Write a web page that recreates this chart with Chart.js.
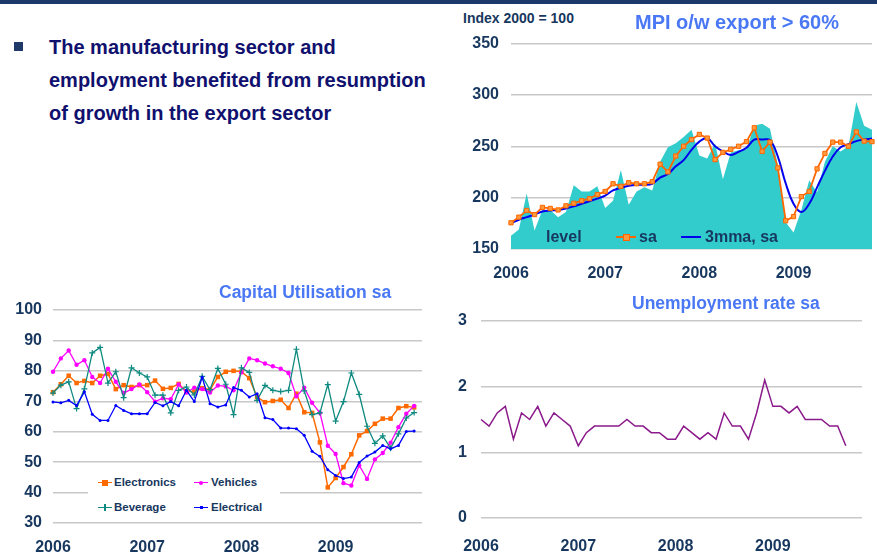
<!DOCTYPE html>
<html>
<head>
<meta charset="utf-8">
<script src="https://cdn.jsdelivr.net/npm/chart.js@4.4.1/dist/chart.umd.min.js"></script>
<style>
  html, body { margin: 0; padding: 0; background: #fff; }
  body { width: 877px; height: 555px; position: relative; overflow: hidden;
         font-family: "Liberation Sans", Arial, sans-serif; }
  .topbar { position: absolute; left: 0; top: 0; width: 877px; height: 4px; background: #1b3a6b; }
  .bullet { position: absolute; left: 14px; top: 42px; width: 9px; height: 9px; background: #1f3a68; }
  .headline { position: absolute; left: 49px; top: 31px; font-size: 20px; font-weight: bold;
              color: #10106e; line-height: 33px; white-space: nowrap; }
  .cv { position: absolute; }
  .ttl { position: absolute; font-weight: bold; color: #4a78f5; white-space: nowrap; line-height: 1; }
  .lg { position: absolute; font-weight: bold; color: #17375e; white-space: nowrap; line-height: 1; }
  .ln { position: absolute; height: 0; }
  .mk { position: absolute; }
  .lgbox { position: absolute; left: 88px; top: 469px; width: 192px; height: 47px; background: #fff; }
</style>
</head>
<body>
<div class="topbar"></div>
<div class="bullet"></div>
<div class="headline">The manufacturing sector and<br>employment benefited from resumption<br>of growth in the export sector</div>

<canvas id="mpi" class="cv" style="left:455px;top:28px" width="422" height="260"></canvas>
<canvas id="cu" class="cv" style="left:0px;top:298px" width="430" height="257"></canvas>
<canvas id="un" class="cv" style="left:440px;top:305px" width="437" height="250"></canvas>

<div class="lg" style="left:463px;top:11px;font-size:14px">Index 2000 = 100</div>
<div class="ttl" style="left:635px;top:12px;font-size:20px">MPI o/w export &gt; 60%</div>
<div class="ttl" style="left:219px;top:284px;font-size:17.5px">Capital Utilisation sa</div>
<div class="ttl" style="left:632px;top:295px;font-size:17.5px">Unemployment rate sa</div>

<!-- MPI legend -->
<div class="lg" style="left:546px;top:229px;font-size:16px">level</div>
<div class="ln" style="left:616px;top:236px;width:20px;border-top:2px solid #ff6600"></div>
<div class="mk" style="left:623px;top:234px;width:5px;height:5px;background:#ff9a3c;border:1px solid #ff6600"></div>
<div class="lg" style="left:639px;top:229px;font-size:16px">sa</div>
<div class="ln" style="left:681px;top:236px;width:20px;border-top:2px solid #0000ee"></div>
<div class="lg" style="left:705px;top:229px;font-size:16px">3mma, sa</div>

<!-- Capital utilisation legend -->
<div class="lgbox"></div>
<div class="ln" style="left:98px;top:482px;width:14px;border-top:1.5px solid #ff6a00"></div>
<div class="mk" style="left:102px;top:480px;width:6px;height:6px;background:#ff6a00"></div>
<div class="lg" style="left:114px;top:477px;font-size:11.5px">Electronics</div>
<div class="ln" style="left:194px;top:482px;width:14px;border-top:1.5px solid #ff00ff"></div>
<div class="mk" style="left:199px;top:481px;width:4px;height:4px;border-radius:2px;background:#ff00ff"></div>
<div class="lg" style="left:211px;top:477px;font-size:11.5px">Vehicles</div>
<div class="ln" style="left:98px;top:507px;width:14px;border-top:1.5px solid #0f8a80"></div>
<div class="mk" style="left:104px;top:504px;width:1.5px;height:7px;background:#0f8a80"></div>
<div class="lg" style="left:114px;top:502px;font-size:11.5px">Beverage</div>
<div class="ln" style="left:194px;top:507px;width:14px;border-top:1.5px solid #0000ff"></div>
<div class="mk" style="left:200px;top:506px;width:3px;height:3px;background:#0000ff"></div>
<div class="lg" style="left:211px;top:502px;font-size:11.5px">Electrical</div>

<script>
// ---- data (monthly, starting Jan 2006) ----
const years = ['2006', '2007', '2008', '2009'];

// MPI o/w export > 60%, Jan 2006 - Nov 2009
const mpiLevel = [163, 169, 204, 168, 188, 188, 181, 186, 212, 206, 206, 211,
                  190, 197, 227, 193, 206, 210, 207, 235, 249, 253, 259, 266,
                  241, 238, 253, 218, 244, 246, 247, 270, 272, 267, 232, 176,
                  166, 188, 217, 205, 235, 250, 245, 250, 293, 270, 266];
const mpiSa = [175.5, 181, 187.5, 183.5, 190.5, 189.5, 188, 192, 194.5, 197, 199, 203,
               206, 213.5, 211, 214.5, 213.5, 213.5, 215.5, 232.5, 225, 240.5, 250, 256.5,
               261.5, 258, 237, 244, 247, 250, 254.5, 268, 245, 254, 229, 177.5,
               181.5, 201, 206, 228, 243, 254, 254, 250, 264, 255, 254.5];
const mpi3mma = [175, 178.5, 181, 183.5, 186.5, 187.5, 188, 189.5, 191.5, 194, 196.5, 199,
                 202, 207, 209.5, 211.5, 212.5, 212.5, 213.5, 219.5, 223, 230.5, 236.5, 246.5,
                 254.5, 258, 250, 245, 241.5, 244.5, 248.5, 256.5, 256.5, 256, 240, 214,
                 194, 186, 194, 210, 226, 240, 249, 252, 255, 256.5, 257.5];

// Capital utilisation sa, Jan 2006 - Nov 2009
const electronics = [73.0, 75.6, 78.4, 76.0, 76.7, 76.0, 78.4, 79.0, 74.0, 75.3, 74.7, 75.3,
                     75.3, 76.8, 74.1, 74.4, 75.7, 73.2, 73.2, 74.3, 73.8, 78.0, 79.7, 80.0,
                     79.7, 77.6, 71.4, 69.7, 70.1, 70.5, 67.8, 72.5, 66.4, 66.2, 56.5, 41.7,
                     44.8, 48.4, 52.6, 58.8, 60.2, 62.6, 64.3, 64.3, 67.8, 68.4, 68.0];
const vehicles = [79.7, 84.1, 86.7, 82.0, 83.5, 78.0, 76.0, 80.7, 76.4, 72.7, 74.0, 75.5,
                  73.0, 69.9, 71.0, 70.7, 75.5, 72.9, 74.5, 74.0, 72.9, 75.2, 74.9, 73.6,
                  79.5, 84.1, 83.5, 82.4, 81.5, 80.7, 79.3, 71.6, 74.5, 69.5, 66.2, 55.4,
                  52.7, 43.1, 42.3, 48.9, 44.5, 50.9, 53.0, 56.4, 61.5, 65.9, 68.5];
const beverage = [72.7, 75.3, 76.4, 67.6, 74.1, 85.9, 87.7, 76.0, 79.7, 71.2, 81.0, 79.3,
                  78.0, 72.0, 72.0, 66.2, 73.6, 74.7, 72.1, 78.2, 73.8, 80.8, 75.6, 65.6,
                  81.0, 79.5, 70.3, 75.2, 73.6, 73.2, 73.6, 87.1, 73.4, 65.6, 66.2, 75.5,
                  63.5, 69.9, 79.3, 72.3, 61.8, 56.2, 58.6, 54.6, 59.3, 64.5, 66.3];
const electrical = [69.8, 69.5, 70.3, 68.6, 73.1, 65.7, 63.7, 63.7, 68.6, 67.0, 65.9, 65.9,
                    65.9, 69.6, 68.5, 69.9, 68.5, 73.6, 69.9, 77.9, 69.2, 68.1, 68.8, 74.5,
                    73.6, 71.4, 72.5, 64.6, 64.0, 61.2, 61.2, 61.0, 58.8, 53.6, 51.9, 47.5,
                    45.6, 44.6, 45.1, 49.9, 52.0, 53.3, 55.5, 54.4, 55.5, 60.1, 60.2];

// Unemployment rate sa, Jan 2006 - Oct 2009
const unemployment = [1.5, 1.4, 1.6, 1.7, 1.2, 1.6, 1.5, 1.7, 1.4, 1.6, 1.5, 1.4,
                      1.1, 1.3, 1.4, 1.4, 1.4, 1.4, 1.5, 1.4, 1.4, 1.3, 1.3, 1.2,
                      1.2, 1.4, 1.3, 1.2, 1.3, 1.2, 1.6, 1.4, 1.4, 1.2, 1.6, 2.1,
                      1.7, 1.7, 1.6, 1.7, 1.5, 1.5, 1.5, 1.4, 1.4, 1.1];

// month categories, e.g. "2006-01"
function monthLabels(count) {
  const out = [];
  for (let i = 0; i < count; i++) {
    const y = years[Math.floor(i / 12)];
    out.push(y + '-' + String(i % 12 + 1).padStart(2, '0'));
  }
  return out;
}

const NAVY = '#17375e';
const GRID = '#c8c8c8';
const tickFont = { family: '"Liberation Sans", Arial, sans-serif', size: 16, weight: 'bold' };

function xAxis(height, pad) {
  return {
    grid: { display: false, drawTicks: false },
    border: { display: false },
    ticks: {
      autoSkip: false, maxRotation: 0, padding: pad, color: NAVY, font: tickFont,
      callback: function (val) {
        const l = this.getLabelForValue(val);
        return l.endsWith('-01') ? l.slice(0, 4) : '';
      }
    },
    // fixed height, no extra side padding: layout.padding decides the plot box
    afterFit: s => { s.height = height; s.paddingLeft = 0; s.paddingRight = 0; }
  };
}

function yAxis(min, max, step, width, pad) {
  return {
    min: min, max: max,
    grid: { color: GRID, lineWidth: 1.5, drawTicks: false },
    border: { display: false },
    ticks: { stepSize: step, padding: pad, color: NAVY, font: tickFont },
    afterFit: s => { s.width = width; s.paddingTop = 0; s.paddingBottom = 0; }
  };
}

function baseOptions(pad, scales) {
  return {
    responsive: false,
    animation: false,
    devicePixelRatio: 1,
    layout: { padding: pad },
    plugins: { legend: { display: false }, tooltip: { enabled: false } },
    scales: scales
  };
}

// MPI chart
new Chart(document.getElementById('mpi'), {
  type: 'line',
  data: {
    labels: monthLabels(mpiSa.length),
    datasets: [
      { label: 'sa', data: mpiSa, order: 0, borderColor: '#ff6600', borderWidth: 1.8,
        pointStyle: 'rect', pointRadius: 3, pointBackgroundColor: '#ff9a3c',
        pointBorderColor: '#ff6600', pointBorderWidth: 1, tension: 0 },
      { label: '3mma, sa', data: mpi3mma, order: 1, borderColor: '#0000ee', borderWidth: 2,
        pointRadius: 0, tension: 0.4 },
      { label: 'level', data: mpiLevel, order: 2, borderWidth: 0, borderColor: 'rgba(0,0,0,0)',
        backgroundColor: '#33cccc', fill: 'start', pointRadius: 0, tension: 0 }
    ]
  },
  options: baseOptions({ top: 15.5, right: 0, left: 0, bottom: 0 }, {
    x: xAxis(39, 15),
    y: yAxis(150, 350, 50, 56, 12)
  })
});

// Capital utilisation chart
new Chart(document.getElementById('cu'), {
  type: 'line',
  data: {
    labels: monthLabels(48),
    datasets: [
      { label: 'Electronics', data: electronics, order: 3, borderColor: '#ff6a00', borderWidth: 1.5,
        pointStyle: 'rect', pointRadius: 3.2, pointBackgroundColor: '#ff6a00', pointBorderWidth: 0 },
      { label: 'Vehicles', data: vehicles, order: 2, borderColor: '#ff00ff', borderWidth: 1.3,
        pointStyle: 'circle', pointRadius: 2.2, pointBackgroundColor: '#ff00ff', pointBorderWidth: 0 },
      { label: 'Beverage', data: beverage, order: 1, borderColor: '#0f8a80', borderWidth: 1.3,
        pointStyle: 'cross', pointRadius: 3, pointBorderColor: '#0f8a80', pointBorderWidth: 1.2 },
      { label: 'Electrical', data: electrical, order: 0, borderColor: '#0000ff', borderWidth: 1.3,
        pointStyle: 'circle', pointRadius: 1.5, pointBackgroundColor: '#0000ff', pointBorderWidth: 0 }
    ]
  },
  options: baseOptions({ top: 12, right: 8, left: 0, bottom: 0 }, {
    x: xAxis(32, 15),
    y: yAxis(30, 100, 10, 53, 11)
  })
});

// Unemployment chart
new Chart(document.getElementById('un'), {
  type: 'line',
  data: {
    labels: monthLabels(48),
    datasets: [
      { label: 'Unemployment rate sa', data: unemployment, borderColor: '#8b1a8b', borderWidth: 1.5,
        pointRadius: 0, tension: 0 }
    ]
  },
  options: baseOptions({ top: 16, right: 15, left: 0, bottom: 0 }, {
    x: xAxis(37, 19),
    y: yAxis(0, 3, 1, 41, 14)
  })
});
</script>
</body>
</html>
